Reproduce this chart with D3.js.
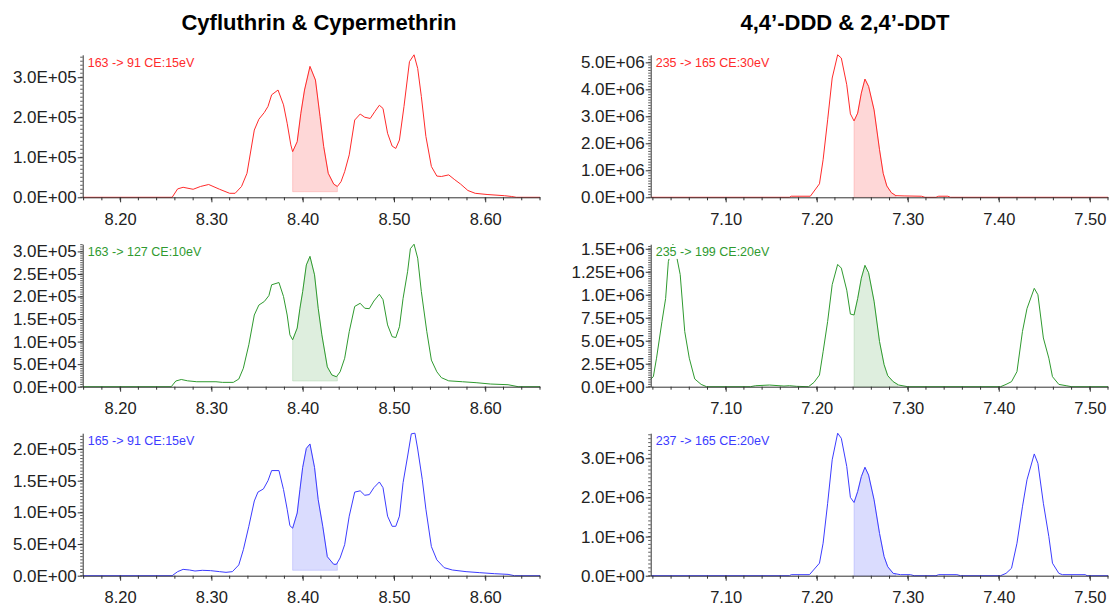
<!DOCTYPE html>
<html>
<head>
<meta charset="utf-8">
<script src="https://cdn.jsdelivr.net/npm/d3@7"></script>
<style>
  body { margin: 0; background: #fff; }
  svg { display: block; font-family: "Liberation Sans", Arial, Helvetica, sans-serif; }
</style>
</head>
<body>
<svg id="chart" width="1110" height="606"></svg>
<script>
// chromatogram data, [retention time (min), intensity]
const cyf163to91 = [
  [8.159, 0], [8.257, 0], [8.263, 2.1e4], [8.269, 2.5e4], [8.280, 2.0e4], [8.288, 2.7e4], [8.297, 3.2e4],
  [8.309, 2.0e4], [8.320, 1.0e4], [8.326, 1.0e4], [8.333, 2.7e4], [8.339, 6.0e4], [8.347, 1.68e5],
  [8.352, 1.95e5], [8.358, 2.12e5], [8.362, 2.27e5], [8.366, 2.56e5], [8.373, 2.68e5], [8.379, 2.31e5],
  [8.383, 1.85e5], [8.387, 1.31e5], [8.389, 1.14e5], [8.394, 1.39e5], [8.398, 2.10e5], [8.402, 2.68e5],
  [8.408, 3.27e5], [8.414, 2.93e5], [8.419, 2.02e5], [8.423, 1.27e5], [8.428, 6.0e4], [8.434, 3.3e4],
  [8.438, 2.7e4], [8.442, 3.9e4], [8.446, 6.4e4], [8.451, 1.06e5], [8.457, 1.93e5], [8.463, 2.08e5],
  [8.468, 2.00e5], [8.474, 1.97e5], [8.479, 2.14e5], [8.484, 2.30e5], [8.488, 2.22e5], [8.493, 1.60e5],
  [8.498, 1.28e5], [8.502, 1.22e5], [8.506, 1.43e5], [8.511, 2.27e5], [8.517, 3.39e5], [8.522, 3.56e5],
  [8.526, 3.22e5], [8.530, 2.52e5], [8.535, 1.52e5], [8.541, 7.7e4], [8.547, 5.3e4], [8.552, 5.2e4],
  [8.560, 5.6e4], [8.566, 4.5e4], [8.573, 3.3e4], [8.581, 1.7e4], [8.589, 1.0e4], [8.602, 7e3],
  [8.621, 4e3], [8.629, 2e3], [8.634, 0], [8.660, 0],
]
const cyf163to127 = [
  [8.159, 0], [8.256, 0], [8.261, 1.26e4], [8.267, 1.6e4], [8.274, 1.3e4], [8.284, 1.1e4], [8.305, 1.1e4],
  [8.312, 9.6e3], [8.324, 9.6e3], [8.330, 1.7e4], [8.335, 4.1e4], [8.341, 9.3e4], [8.347, 1.59e5],
  [8.352, 1.81e5], [8.358, 1.89e5], [8.363, 2.02e5], [8.366, 2.26e5], [8.374, 2.31e5], [8.379, 2.00e5],
  [8.383, 1.59e5], [8.386, 1.15e5], [8.389, 1.04e5], [8.394, 1.30e5], [8.397, 1.74e5], [8.400, 2.11e5],
  [8.404, 2.70e5], [8.408, 2.89e5], [8.413, 2.48e5], [8.417, 1.74e5], [8.421, 1.15e5], [8.427, 4.4e4],
  [8.432, 2.6e4], [8.437, 2.2e4], [8.441, 3.3e4], [8.446, 6.3e4], [8.451, 1.22e5], [8.457, 1.78e5],
  [8.463, 1.85e5], [8.468, 1.74e5], [8.473, 1.73e5], [8.478, 1.90e5], [8.484, 2.05e5], [8.488, 1.93e5],
  [8.493, 1.37e5], [8.498, 1.11e5], [8.502, 1.09e5], [8.506, 1.33e5], [8.510, 1.96e5], [8.515, 2.56e5],
  [8.518, 3.06e5], [8.522, 3.16e5], [8.526, 2.85e5], [8.530, 2.11e5], [8.536, 1.22e5], [8.541, 5.9e4],
  [8.547, 3.3e4], [8.552, 2.0e4], [8.560, 1.3e4], [8.575, 1.1e4], [8.590, 8.9e3], [8.606, 5.9e3],
  [8.625, 4.4e3], [8.636, 0], [8.660, 0],
]
const cyf165to91 = [
  [8.159, 0], [8.257, 0], [8.263, 6.4e3], [8.269, 1.0e4], [8.276, 9e3], [8.282, 7.4e3], [8.290, 8.5e3],
  [8.299, 8e3], [8.309, 6.4e3], [8.316, 5.3e3], [8.323, 6.4e3], [8.330, 1.7e4], [8.335, 4.1e4],
  [8.341, 7.8e4], [8.347, 1.18e5], [8.351, 1.32e5], [8.357, 1.37e5], [8.362, 1.50e5], [8.366, 1.66e5],
  [8.374, 1.66e5], [8.379, 1.36e5], [8.383, 1.05e5], [8.386, 7.9e4], [8.389, 7.5e4], [8.394, 9.9e4],
  [8.397, 1.36e5], [8.400, 1.71e5], [8.404, 2.01e5], [8.408, 2.08e5], [8.413, 1.71e5], [8.417, 1.20e5],
  [8.422, 7.8e4], [8.427, 3.0e4], [8.434, 1.8e4], [8.437, 1.8e4], [8.441, 2.8e4], [8.446, 4.9e4],
  [8.451, 9.4e4], [8.457, 1.32e5], [8.463, 1.34e5], [8.468, 1.27e5], [8.473, 1.28e5], [8.478, 1.39e5],
  [8.484, 1.48e5], [8.488, 1.39e5], [8.493, 9.4e4], [8.498, 7.8e4], [8.502, 7.8e4], [8.506, 9.4e4],
  [8.510, 1.47e5], [8.515, 1.89e5], [8.519, 2.24e5], [8.523, 2.25e5], [8.526, 2.00e5], [8.531, 1.52e5],
  [8.535, 1.05e5], [8.541, 4.6e4], [8.547, 2.5e4], [8.555, 1.27e4], [8.564, 9e3], [8.579, 6.4e3],
  [8.594, 4.8e3], [8.610, 3.2e3], [8.625, 2.1e3], [8.632, 0], [8.660, 0],
]
const ddt235to165 = [
  [7.018, 0], [7.170, 0], [7.172, 4e4], [7.193, 4e4], [7.203, 5.0e5], [7.207, 1.39e6], [7.212, 2.87e6],
  [7.217, 4.42e6], [7.223, 5.28e6], [7.227, 5.16e6], [7.233, 4.17e6], [7.237, 3.09e6], [7.241, 2.83e6],
  [7.245, 3.12e6], [7.249, 3.86e6], [7.253, 4.38e6], [7.257, 4.11e6], [7.263, 3.24e6], [7.269, 1.76e6],
  [7.273, 8.9e5], [7.277, 4.2e5], [7.282, 1.7e5], [7.287, 6e4], [7.296, 5e4], [7.315, 4e4], [7.319, 0],
  [7.331, 0], [7.334, 4e4], [7.344, 4e4], [7.347, 0], [7.520, 0],
]
const ddt235to199 = [
  [7.0176, 8.4e4], [7.0205, 1.09e5], [7.024, 3.1e5], [7.030, 7.1e5], [7.034, 9.6e5], [7.037, 1.36e6],
  [7.042, 1.55e6], [7.046, 1.42e6], [7.050, 1.22e6], [7.055, 6.0e5], [7.060, 3.1e5], [7.066, 8.4e4],
  [7.073, 2.5e4], [7.079, 0], [7.127, 0], [7.133, 1.1e4], [7.148, 1.8e4], [7.164, 7e3], [7.170, 1.1e4],
  [7.178, 4e3], [7.191, 0], [7.197, 4.7e4], [7.203, 1.27e5], [7.207, 3.8e5], [7.212, 7.1e5],
  [7.217, 1.11e6], [7.223, 1.33e6], [7.227, 1.29e6], [7.233, 1.05e6], [7.237, 7.9e5], [7.241, 7.8e5],
  [7.245, 9.6e5], [7.249, 1.18e6], [7.253, 1.32e6], [7.257, 1.24e6], [7.263, 9.3e5], [7.269, 4.9e5],
  [7.274, 2.4e5], [7.278, 1.2e5], [7.284, 5.5e4], [7.290, 1.8e4], [7.300, 0], [7.402, 0], [7.408, 2.5e4],
  [7.414, 5.5e4], [7.420, 1.64e5], [7.426, 6.0e5], [7.431, 8.5e5], [7.439, 1.07e6], [7.443, 1.0e6],
  [7.449, 5.3e5], [7.455, 3.1e5], [7.459, 1.09e5], [7.466, 2.5e4], [7.474, 1.1e4], [7.480, 0], [7.520, 0],
]
const ddt237to165 = [
  [7.018, 0], [7.170, 0], [7.172, 2.6e4], [7.192, 2.6e4], [7.203, 3.2e5], [7.207, 8.3e5], [7.212, 1.85e6],
  [7.217, 2.96e6], [7.223, 3.64e6], [7.227, 3.51e6], [7.233, 2.79e6], [7.237, 2.0e6], [7.241, 1.87e6],
  [7.245, 2.15e6], [7.249, 2.53e6], [7.253, 2.77e6], [7.257, 2.57e6], [7.263, 1.94e6], [7.269, 1.08e6],
  [7.274, 4.9e5], [7.278, 2.3e5], [7.284, 6e4], [7.292, 2.6e4], [7.303, 2.6e4], [7.307, 0], [7.331, 0],
  [7.334, 2.6e4], [7.354, 2.6e4], [7.358, 0], [7.402, 0], [7.408, 6e4], [7.414, 1.9e5], [7.420, 8.3e5],
  [7.426, 1.76e6], [7.431, 2.45e6], [7.439, 3.11e6], [7.443, 2.87e6], [7.449, 1.85e6], [7.455, 1.0e6],
  [7.459, 3.2e5], [7.466, 6e4], [7.470, 2.6e4], [7.495, 2.6e4], [7.497, 0], [7.520, 0],
]

const titles = ['Cyfluthrin & Cypermethrin', '4,4’-DDD & 2,4’-DDT']
const timeRanges = [[8.159, 8.66], [7.0176, 7.52]]
const timeTicks = [[8.20, 8.30, 8.40, 8.50, 8.60], [7.10, 7.20, 7.30, 7.40, 7.50]]
const transitions = [
  '163 -> 91 CE:15eV', '163 -> 127 CE:10eV', '165 -> 91 CE:15eV',
  '235 -> 165 CE:30eV', '235 -> 199 CE:20eV', '237 -> 165 CE:20eV',
]
const yTickSteps = [1e5, 5e4, 5e4, 1e6, 2.5e5, 1e6]
// integrated peak: [start, end, baseline intensity]
const peakWindows = [
  [8.389, 8.438, 1.4e4], [8.389, 8.438, 1.26e4], [8.389, 8.438, 8.5e3],
  [7.241, 7.287, 0], [7.241, 7.289, 0], [7.241, 7.287, 0],
]
const traces = [cyf163to91, cyf163to127, cyf165to91, ddt235to165, ddt235to199, ddt237to165]

// layout
const columnX = [[82.7, 540], [650.7, 1108]]
const titleX = [319, 845]
const rowBase = [197.3, 386.7, 575.7]
const PlotHeight = 142.5
const rowColours = ['#ff2b2b', '#2f9a2f', '#3c3cff']
const rowFills = ['rgba(250,110,110,0.28)', 'rgba(90,170,90,0.2)', 'rgba(100,110,250,0.24)']
const AxisColour = '#333'

const svg = d3.select('#chart')

function sciFormat(v) {
  if (v === 0) return '0.0E+00'
  const e = Math.floor(Math.log10(v) + 1e-9)
  let m = (v / 10 ** e).toFixed(2)
  if (m.endsWith('0')) m = m.slice(0, -1)
  return `${m}E+${String(e).padStart(2, '0')}`
}

function interp(trace, t) {
  const i = d3.bisector(d => d[0]).left(trace, t)
  if (i <= 0) return trace[0][1]
  if (i >= trace.length) return trace[trace.length - 1][1]
  const [t0, v0] = trace[i - 1]
  const [t1, v1] = trace[i]
  return v0 + (v1 - v0) * (t - t0) / (t1 - t0)
}

function renderPanel(index) {
  const col = index < 3 ? 0 : 1
  const row = index % 3
  const trace = traces[index]
  const [x0, x1] = columnX[col]
  const base = rowBase[row]
  const x = d3.scaleLinear(timeRanges[col], [x0, x1])
  const yMax = d3.max(trace, d => d[1])
  const y = d3.scaleLinear([0, yMax], [base, base - PlotHeight])
  const g = svg.append('g').classed('panel', true)

  // integrated area
  const [ws, we, wb] = peakWindows[index]
  const fillPts = [[ws, interp(trace, ws)], ...trace.filter(d => d[0] > ws && d[0] < we), [we, interp(trace, we)]]
  g.append('path')
    .datum(fillPts)
    .attr('d', d3.area().x(d => x(d[0])).y0(y(wb)).y1(d => y(d[1])))
    .attr('fill', rowFills[row])
    .attr('stroke', rowFills[row])
    .attr('stroke-width', 1)

  g.append('path')
    .datum(trace)
    .attr('d', d3.line().x(d => x(d[0])).y(d => y(d[1])))
    .attr('fill', 'none')
    .attr('stroke', rowColours[row])
    .attr('stroke-width', 1)
    .attr('stroke-linejoin', 'round')

  // x axis
  const xAxis = d3.axisBottom(x)
    .tickValues(timeTicks[col])
    .tickFormat(d3.format('.2f'))
    .tickSize(5)
    .tickSizeOuter(0)
    .tickPadding(11)
  const xg = g.append('g')
    .attr('transform', `translate(0,${base})`)
    .attr('color', AxisColour)
    .call(xAxis)
  xg.attr('font-size', 16.5).attr('font-family', null)
  xg.selectAll('.tick text').attr('fill', '#222')

  const [t0, t1] = timeRanges[col]
  const minorX = d3.range(Math.ceil(t0 / 0.02 - 1e-6), Math.floor(t1 / 0.02 + 1e-6) + 1).map(i => i * 0.02)
  g.append('g')
    .selectAll('line')
    .data(minorX)
    .join('line')
    .attr('x1', d => x(d)).attr('x2', d => x(d))
    .attr('y1', base).attr('y2', base + 3)
    .attr('stroke', AxisColour)

  // y axis
  const step = yTickSteps[index]
  const yAxis = d3.axisLeft(y)
    .tickValues(d3.range(0, yMax * 1.0001, step))
    .tickFormat(sciFormat)
    .tickSize(5)
    .tickSizeOuter(0)
    .tickPadding(1)
  const yg = g.append('g')
    .attr('transform', `translate(${x0},0)`)
    .attr('color', AxisColour)
    .call(yAxis)
  yg.attr('font-size', 17).attr('font-family', null)
  yg.selectAll('.tick text').attr('fill', '#222')

  g.append('g')
    .selectAll('line')
    .data(d3.range(0, yMax, step / 10))
    .join('line')
    .attr('x1', x0 - 2.5).attr('x2', x0)
    .attr('y1', d => y(d)).attr('y2', d => y(d))
    .attr('stroke', AxisColour)
    .attr('stroke-width', 0.8)

  // transition label on white
  const labelGroup = g.append('g').classed('mrm-label', true)
  const bg = labelGroup.append('rect').attr('fill', '#fff')
  const label = labelGroup.append('text')
    .attr('x', x0 + 5)
    .attr('y', base - PlotHeight + 11.7)
    .attr('font-size', 12.5)
    .attr('fill', rowColours[row])
    .text(transitions[index])
  const box = label.node().getBBox()
  bg.attr('x', box.x - 1).attr('y', box.y)
    .attr('width', box.width + 2).attr('height', box.height)
}

traces.forEach((t, i) => renderPanel(i))

svg.selectAll('.title')
  .data(titles)
  .join('text')
  .classed('title', true)
  .attr('x', (d, i) => titleX[i])
  .attr('y', 30)
  .attr('text-anchor', 'middle')
  .attr('font-size', 22)
  .attr('font-weight', 'bold')
  .attr('fill', '#000')
  .text(d => d)
</script>
</body>
</html>
